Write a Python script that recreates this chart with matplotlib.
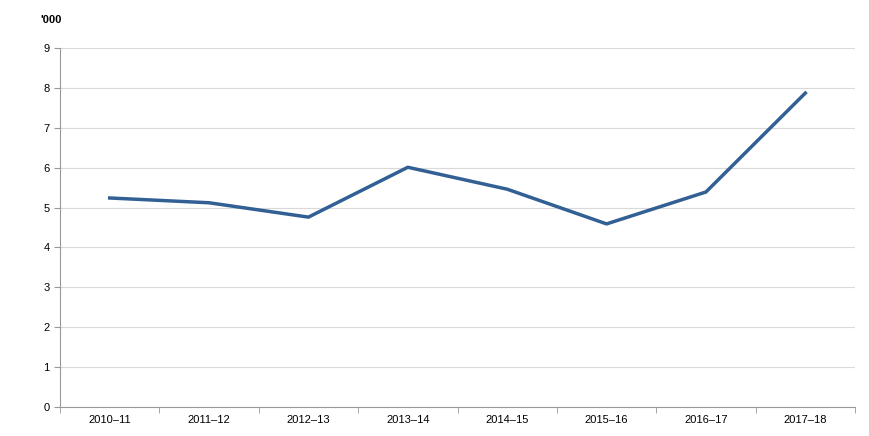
import matplotlib
matplotlib.use("Agg")
import matplotlib.pyplot as plt
import numpy as np

categories = ["2010–11","2011–12","2012–13","2013–14","2014–15","2015–16","2016–17","2017–18"]
values = [5.24, 5.12, 4.76, 6.01, 5.46, 4.59, 5.39, 7.87]

plt.rcParams['font.family'] = ['Liberation Sans', 'DejaVu Sans']
fig = plt.figure(figsize=(8.69, 4.36), dpi=100)
ax = fig.add_axes([60/869, 29/436, 795/869, 359/436])
x = np.arange(len(categories))
ax.plot(x, values, color="#336094", linewidth=2.5)
ax.set_xlim(-0.5, len(categories)-0.5)
ax.set_ylim(0, 9)
ax.set_yticks(range(0, 10))
ax.set_xticks(x)
ax.set_xticklabels(categories, fontsize=8)
ax.set_xticks(np.arange(-0.5, len(categories)), minor=True)
ax.tick_params(axis='x', which='major', length=0, pad=6)
ax.tick_params(axis='x', which='minor', length=4, color="#999999")
ax.tick_params(axis='y', length=4, color="#999999", labelsize=8)
ax.grid(axis='y', color="#d9d9d9", linewidth=0.8)
ax.set_axisbelow(True)
for s in ['top', 'right']:
    ax.spines[s].set_visible(False)
for s in ['left', 'bottom']:
    ax.spines[s].set_color("#999999")
fig.text(40/869, 1-20/436, "'000", fontsize=8, fontweight='bold', va='center')
fig.savefig("out.png", dpi=100)
